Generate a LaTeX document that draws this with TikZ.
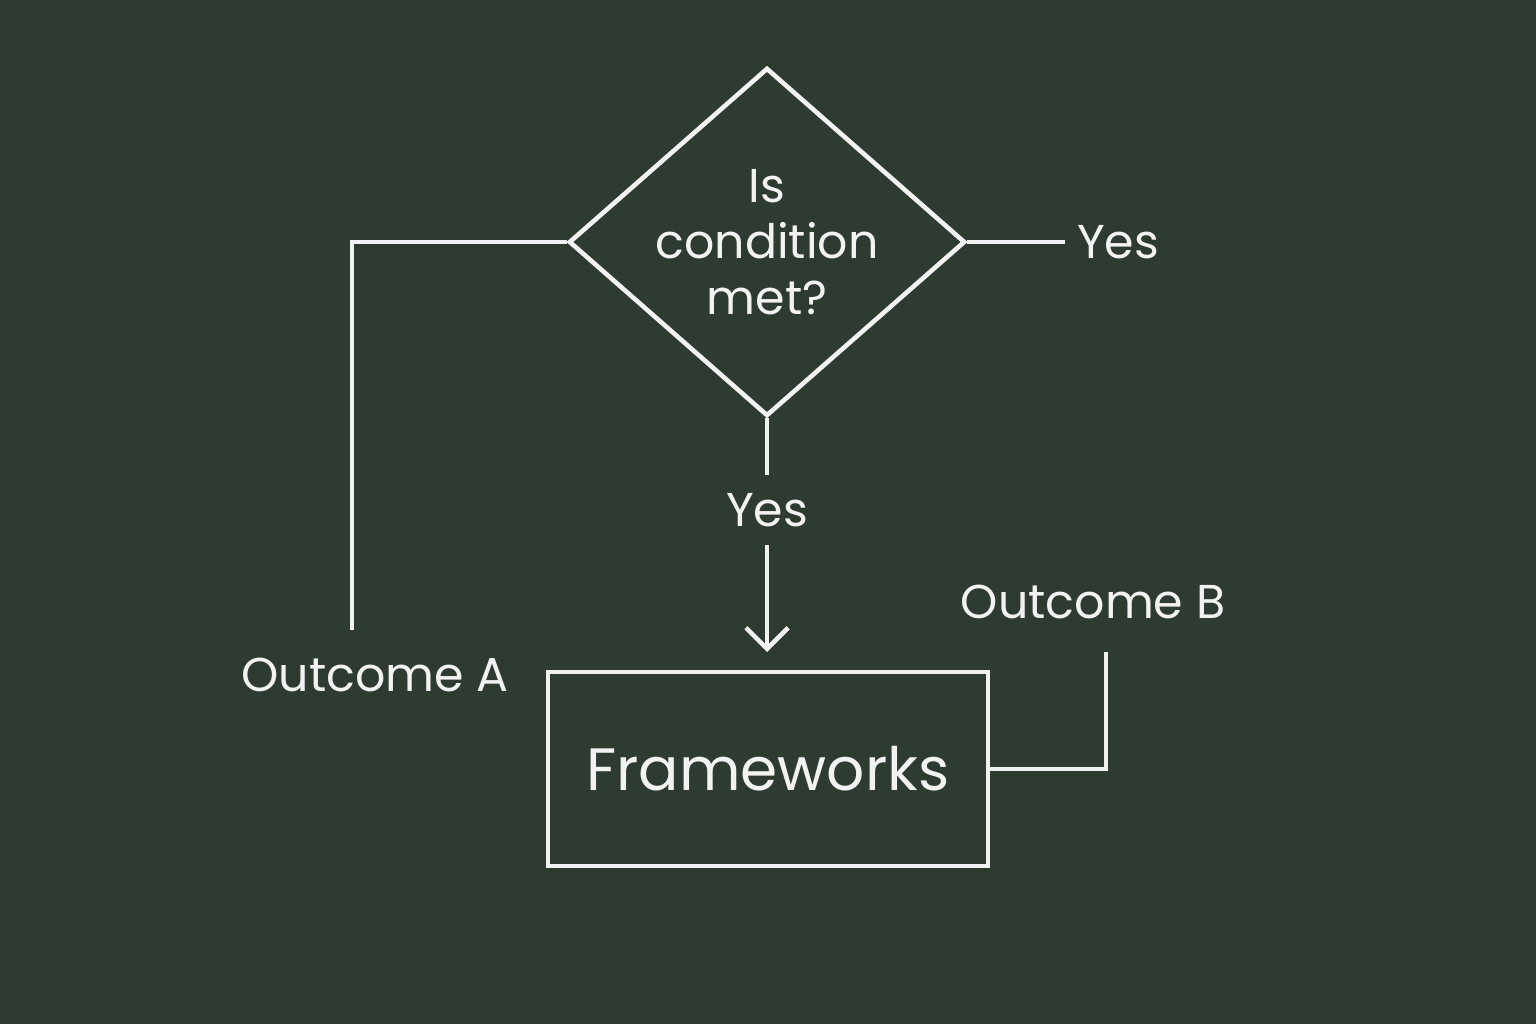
\documentclass[tikz,border=0pt]{standalone}
\usepackage{fontspec}
\setmainfont{Poppins}
\usepackage{tikz}
\usetikzlibrary{positioning, calc, shapes.geometric, arrows.meta}
\definecolor{board}{HTML}{2D3B30}
\colorlet{chalk}{white!90!gray}
\tikzset{chalkline/.style={chalk, line width=1.3pt}}
\tikzset{label/.style={text=chalk, font=\fontsize{13.5}{16}\selectfont, inner sep=1pt}}
\tikzset{decision/.style={draw=chalk, line width=1.3pt, diamond, aspect=1.138, minimum width=3.96cm, minimum height=3.48cm, inner sep=0pt, align=center, text=chalk, font=\fontsize{13.5}{16}\selectfont}}
\tikzset{block/.style={draw=chalk, line width=1.3pt, minimum width=4.4cm, minimum height=1.94cm, text=chalk, font=\fontsize{17}{20}\selectfont}}

\begin{document}
\begin{tikzpicture}[x=0.01cm, y=-0.01cm]
                \fill[board] (0,0) rectangle (1536,1024);
                \useasboundingbox (0,0) rectangle (1536,1024);
                
                \node[decision] (cond) at (767,242) {Is\\condition\\met?};
                \node[block] (fw) at (768,769) {Frameworks};
                
                \node[label] (yesdown) at (767,510) {Yes};
                \node[label] (yesright) at (1118,242) {Yes};
                \node[label] (outa) at (375,675) {Outcome A};
                \node[label] (outb) at (1093,602) {Outcome B};
                
                \coordinate (downend) at (767,475);
                \coordinate (rightend) at (1065,242);
                \coordinate (leftend) at (352,630);
                \coordinate (bend) at (1106,652);
                \coordinate (arrowtop) at (767,545);
                \coordinate (arrowend) at (767,652);
                
                \draw[chalkline] (cond.south) -- (downend);
                \draw[chalkline] (cond.east) -- (rightend);
                \draw[chalkline] (cond.west) -| (leftend);
                \draw[chalkline, -{Straight Barb[length=6pt, width=12pt]}] (arrowtop) -- (arrowend);
                \draw[chalkline] (fw.east) -| (bend);
            \end{tikzpicture}
\end{document}
